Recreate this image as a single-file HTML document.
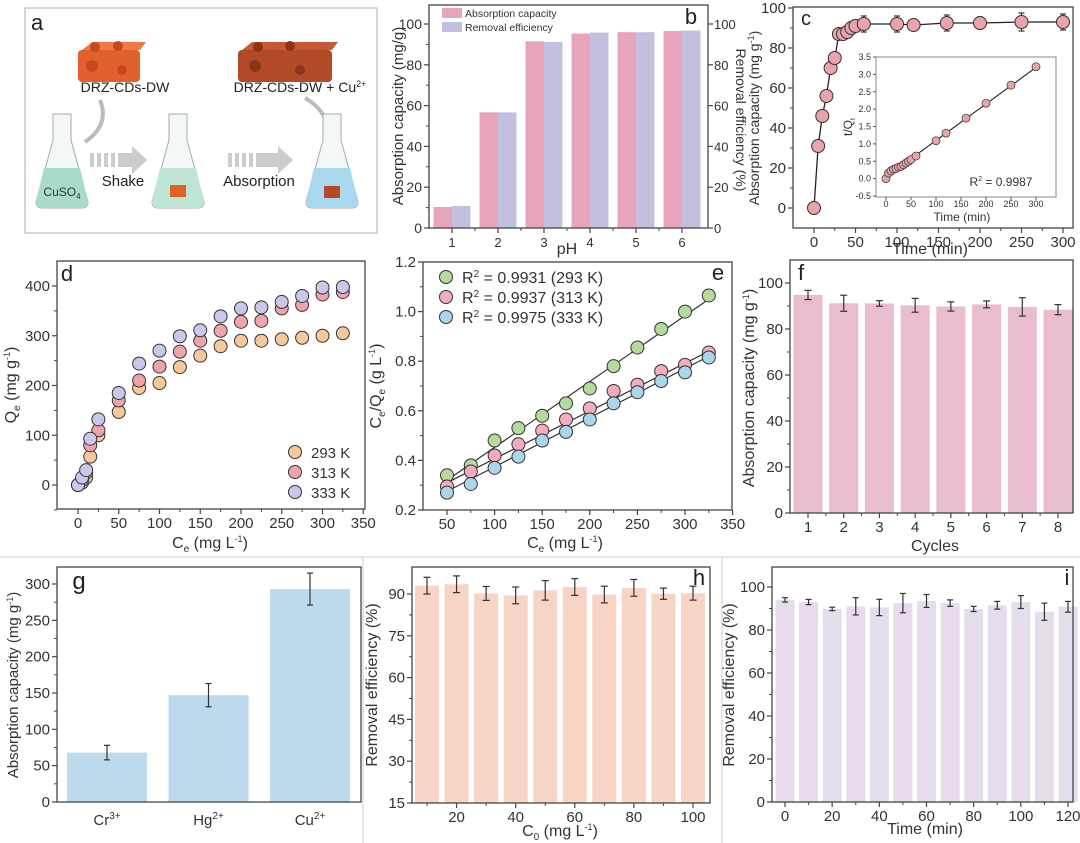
<!DOCTYPE html>
<html><head><meta charset="utf-8">
<style>
html,body{margin:0;padding:0;background:#fff;}
svg{display:block;font-family:"Liberation Sans",Arial,sans-serif;}
</style></head>
<body>
<svg id="fig" width="1080" height="843" viewBox="0 0 1080 843" xmlns="http://www.w3.org/2000/svg">
<g stroke="#ccc" stroke-width="1">
<line x1="0" y1="557" x2="1080" y2="557"/>
<line x1="363" y1="557" x2="363" y2="843"/>
<line x1="722" y1="557" x2="722" y2="843"/>
</g>
<g>
<rect x="25" y="8" width="352" height="225" fill="#fff" stroke="#bbb" stroke-width="1.2"/>
<text x="31" y="30" font-size="22" fill="#222">a</text>
<g>
<rect x="78" y="50" width="62" height="32" rx="4" fill="#e0602e"/>
<path d="M82 50 L92 42 L146 42 L140 50 Z" fill="#f07a45"/>
<circle cx="95" cy="47" r="5" fill="#c24a1e"/><circle cx="118" cy="46" r="5" fill="#c24a1e"/>
<circle cx="92" cy="66" r="6" fill="#c24a1e"/><circle cx="122" cy="70" r="5" fill="#c24a1e"/>
</g>
<g>
<rect x="238" y="50" width="94" height="32" rx="4" fill="#b24a2a"/>
<path d="M242 50 L252 42 L338 42 L332 50 Z" fill="#c55a35"/>
<circle cx="258" cy="47" r="5" fill="#8a3418"/><circle cx="290" cy="46" r="5" fill="#8a3418"/>
<circle cx="255" cy="66" r="6" fill="#8a3418"/><circle cx="300" cy="70" r="5" fill="#8a3418"/>
</g>
<text x="125" y="92" font-size="14" fill="#222" text-anchor="middle">DRZ-CDs-DW</text>
<text x="300" y="92" font-size="14" fill="#222" text-anchor="middle">DRZ-CDs-DW + Cu<tspan font-size="9" dy="-5">2+</tspan></text>
<path d="M100 100 Q110 125 85 142" fill="none" stroke="#bbb" stroke-width="4"/>
<path d="M325 118 Q318 105 305 98" fill="none" stroke="#bbb" stroke-width="4"/>
<g>
<path d="M53 114 L71 114 L71 140 L88 202 Q88 208 82 208 L42 208 Q36 208 36 202 L53 140 Z" fill="#f4f7f7" stroke="#aaa"/>
<path d="M44 168 L80 168 L88 202 Q88 208 82 208 L42 208 Q36 208 36 202 Z" fill="#a8dcc8"/>
<text x="62" y="196" font-size="12" fill="#333" text-anchor="middle">CuSO<tspan font-size="8" dy="3">4</tspan></text>
</g>
<g>
<path d="M169 114 L187 114 L187 140 L204 202 Q204 208 198 208 L158 208 Q152 208 152 202 L169 140 Z" fill="#f4f7f7" stroke="#aaa"/>
<path d="M160 168 L196 168 L204 202 Q204 208 198 208 L158 208 Q152 208 152 202 Z" fill="#bfe6d4"/>
<rect x="170" y="185" width="16" height="12" fill="#e0602e"/>
</g>
<g>
<path d="M323 114 L341 114 L341 140 L358 202 Q358 208 352 208 L312 208 Q306 208 306 202 L323 140 Z" fill="#f4f7f7" stroke="#aaa"/>
<path d="M314 168 L350 168 L358 202 Q358 208 352 208 L312 208 Q306 208 306 202 Z" fill="#a9d8ee"/>
<rect x="324" y="186" width="16" height="12" fill="#b24a2a"/>
</g>
<g fill="#ccc">
<rect x="90" y="153" width="4" height="14"/><rect x="97" y="153" width="4" height="14"/><rect x="104" y="153" width="4" height="14"/><rect x="111" y="153" width="4" height="14"/>
<path d="M118 153 L132 153 L132 146 L147 160 L132 174 L132 167 L118 167 Z"/>
</g>
<g fill="#ccc">
<rect x="228" y="153" width="4" height="14"/><rect x="235" y="153" width="4" height="14"/><rect x="242" y="153" width="4" height="14"/><rect x="249" y="153" width="4" height="14"/>
<path d="M256 153 L278 153 L278 146 L293 160 L278 174 L278 167 L256 167 Z"/>
</g>
<text x="123" y="186" font-size="15" fill="#222" text-anchor="middle">Shake</text>
<text x="259" y="186" font-size="15" fill="#222" text-anchor="middle">Absorption</text>
</g>
<g id="charts"></g>
</svg>
<script>
const bPH = [1,2,3,4,5,6];
const bCapacity = [10.3,56.7,91.5,95.3,96.0,96.6];
const bRemoval = [10.8,56.7,91.2,95.8,96.0,96.8];
const cTime = [0,5,10,15,20,25,30,35,40,45,50,60,100,120,160,200,250,300];
const cQt = [0,31,46,56,70,75,87,87,88,90,91,92,92,91.5,92.5,92.5,93,93];
const cErr = [0,1.5,1.5,2,2,2,2,2,3,3,3,4,4,2,4,3,4.5,4];
const cInsetTQ = [0,0.16,0.22,0.27,0.29,0.33,0.35,0.40,0.45,0.50,0.55,0.65,1.09,1.31,1.74,2.17,2.69,3.22];
const cFit = [[5,0.1],[300,3.2]];
const dCe = [0,5,10,15,25,50,75,100,125,150,175,200,225,250,275,300,325];
const dQ293 = [0,5,15,57,100,147,195,205,237,260,279,290,290,293,296,300,305];
const dQ313 = [0,10,25,80,110,170,210,238,268,290,310,328,330,355,362,383,388];
const dQ333 = [0,15,30,93,132,185,244,270,299,311,339,355,357,368,380,397,398];
const eCe = [50,75,100,125,150,175,200,225,250,275,300,325];
const e293 = [0.34,0.38,0.48,0.53,0.58,0.63,0.69,0.78,0.855,0.93,1.0,1.065];
const e313 = [0.295,0.355,0.42,0.465,0.52,0.565,0.61,0.68,0.705,0.76,0.785,0.835];
const e333 = [0.27,0.305,0.37,0.415,0.48,0.515,0.565,0.63,0.675,0.72,0.755,0.815];
const eFit293 = [0.32,1.05];
const eFit313 = [0.31,0.84];
const eFit333 = [0.275,0.82];
const fCycles = [1,2,3,4,5,6,7,8];
const fCap = [94.8,91.2,91.1,90.3,89.8,90.7,89.6,88.4];
const fErr = [2,3.5,1.2,3,2,1.5,4,2.2];
const gIons = ["Cr","Hg","Cu"];
const gCharge = ["3+","2+","2+"];
const gCap = [68,147,293];
const gErr = [10,16,22];
const hC0 = [10,20,30,40,50,60,70,80,90,100];
const hRem = [93,93.5,90.2,89.5,91.3,92.5,89.8,92.2,90.1,90.3];
const hErr = [3,3,2.5,3,3.5,3,3,3,2,2.5];
const iTime = [0,10,20,30,40,50,60,70,80,90,100,110,120];
const iRem = [94,93,89.8,91,90.5,92.5,93.5,92.5,89.8,91.5,93,88.5,90.8];
const iErr = [1,1.2,0.8,4,3.8,4.5,3,1.5,1.2,1.8,3,4,2.5];

const NS = "http://www.w3.org/2000/svg";
const root = document.getElementById('charts');
function mk(tag, attrs, parent, name, inter) {
  const el = document.createElementNS(NS, tag);
  for (const k in attrs) el.setAttribute(k, attrs[k]);
  
  
  (parent || root).appendChild(el);
  return el;
}
function lin(d0,d1,r0,r1){ return v => r0 + (v-d0)*(r1-r0)/(d1-d0); }
function txt(x,y,s,size,parent,name,anchor,extra){
  const t = mk('text', Object.assign({x:x,y:y,'font-size':size,fill:'#333','text-anchor':anchor||'middle'}, extra||{}), parent, name, false);
  t.innerHTML = s;
  return t;
}
function frame(g, x0,y0,x1,y1,name){
  mk('rect',{x:x0,y:y0,width:x1-x0,height:y1-y0,fill:'none',stroke:'#444','stroke-width':1.3}, g, name, false);
}
function xTicks(g, xs, vals, yb, minor, fs, name){
  vals.forEach(v=>{
    mk('line',{x1:xs(v),x2:xs(v),y1:yb,y2:yb+5,stroke:'#444','stroke-width':1.2}, g, name+'-tick', false);
    txt(xs(v), yb+19, String(v), fs||15, g, name+'-label');
  });
  (minor||[]).forEach(v=>{
    mk('line',{x1:xs(v),x2:xs(v),y1:yb,y2:yb+3,stroke:'#444','stroke-width':1}, g, name+'-minor-tick', false);
  });
}
function yTicks(g, ys, vals, xl, minor, fs, name, fmt){
  vals.forEach(v=>{
    mk('line',{x1:xl-5,x2:xl,y1:ys(v),y2:ys(v),stroke:'#444','stroke-width':1.2}, g, name+'-tick', false);
    txt(xl-7, ys(v)+5, fmt?fmt(v):String(v), fs||15, g, name+'-label', 'end');
  });
  (minor||[]).forEach(v=>{
    mk('line',{x1:xl-3,x2:xl,y1:ys(v),y2:ys(v),stroke:'#444','stroke-width':1}, g, name+'-minor-tick', false);
  });
}
function vtitle(x,y,s,size,g,name,rot){
  txt(0,0,s,size,g,name,'middle',{transform:'translate('+x+','+y+') rotate('+(rot||-90)+')'});
}
function errbar(g,x,y1,y2,w,name){
  mk('line',{x1:x,x2:x,y1:y1,y2:y2,stroke:'#333','stroke-width':1.2}, g, name, false);
  mk('line',{x1:x-w,x2:x+w,y1:y1,y2:y1,stroke:'#333','stroke-width':1.2}, g, name+'-cap', false);
  mk('line',{x1:x-w,x2:x+w,y1:y2,y2:y2,stroke:'#333','stroke-width':1.2}, g, name+'-cap', false);
}

(function(){
  const g = mk('g',{}, root, 'panel-b', false);
  const xs = lin(1,6,452,682), ys = lin(0,100,228,24);
  const bw = 18.5;
  bPH.forEach((p,i)=>{
    mk('rect',{x:xs(p)-bw,y:ys(bCapacity[i]),width:bw,height:228-ys(bCapacity[i]),fill:'#e8a4bd'}, g, 'bar-capacity-ph'+p, false);
    mk('rect',{x:xs(p),y:ys(bRemoval[i]),width:bw,height:228-ys(bRemoval[i]),fill:'#c3c0df'}, g, 'bar-removal-ph'+p, false);
  });
  frame(g,429,5,708,228,'panel-b-frame');
  xTicks(g,xs,bPH,228,[1.5,2.5,3.5,4.5,5.5],13,'b-x');
  yTicks(g,ys,[0,20,40,60,80,100],429,[10,30,50,70,90],14,'b-y');
  [0,20,40,60,80,100].forEach(v=>{
    mk('line',{x1:708,x2:713,y1:ys(v),y2:ys(v),stroke:'#444','stroke-width':1.2}, g, 'b-y2-tick', false);
    txt(714, ys(v)+5, String(v), 13, g, 'b-y2-label','start');
  });
  txt(567,254,'pH',16,g,'b-x-title');
  vtitle(403,116,'Absorption capacity (mg/g)',15,g,'b-y-title');
  vtitle(736,120,'Removal efficiency (%)',14,g,'b-y2-title',90);
  mk('rect',{x:442,y:8,width:20,height:10,fill:'#e8a4bd'}, g, 'legend-swatch-capacity', false);
  txt(465,17,'Absorption capacity',10.5,g,'legend-label-capacity','start');
  mk('rect',{x:442,y:22,width:20,height:10,fill:'#c3c0df'}, g, 'legend-swatch-removal', false);
  txt(465,31,'Removal efficiency',10.5,g,'legend-label-removal','start');
  txt(691,24,'b',22,g,'panel-b-label','middle',{fill:'#222'});
})();

(function(){
  const g = mk('g',{}, root, 'panel-c', false);
  const xs = lin(0,300,814,1063), ys = lin(0,100,208,8);
  frame(g,793,7,1073,228,'panel-c-frame');
  xTicks(g,xs,[0,50,100,150,200,250,300],228,[25,75,125,175,225,275],15,'c-x');
  yTicks(g,ys,[0,20,40,60,80,100],793,[10,30,50,70,90],15,'c-y');
  let d = cTime.map((t,i)=>(i?'L':'M')+xs(t)+' '+ys(cQt[i])).join(' ');
  mk('path',{d:d,fill:'none',stroke:'#222','stroke-width':1.3}, g, 'c-kinetic-line', false);
  cTime.forEach((t,i)=>{
    if(cErr[i]) errbar(g,xs(t),ys(cQt[i]+cErr[i]),ys(cQt[i]-cErr[i]),3,'c-errorbar');
    mk('circle',{cx:xs(t),cy:ys(cQt[i]),r:6.5,fill:'#eba3aa',stroke:'#333','stroke-width':1}, g, 'c-point', false);
  });
  txt(930,254,'Time (min)',16,g,'c-x-title');
  vtitle(759,118,'Absorption capacity (mg g<tspan font-size="9" dy="-5">-1</tspan><tspan dy="5">)</tspan>',14,g,'c-y-title');
  txt(806,25,'c',20,g,'panel-c-label','middle',{fill:'#222'});
  const ix = lin(0,300,886,1036), iy = lin(-0.5,3.5,196,57);
  mk('rect',{x:876,y:57,width:180,height:140,fill:'#fff',stroke:'#888','stroke-width':1}, g, 'c-inset-frame', false);
  [0,50,100,150,200,250,300].forEach(v=>{
    mk('line',{x1:ix(v),x2:ix(v),y1:197,y2:200,stroke:'#555'}, g, 'c-inset-x-tick', false);
    txt(ix(v),207,String(v),9,g,'c-inset-x-label');
  });
  [-0.5,0,0.5,1,1.5,2,2.5,3,3.5].forEach(v=>{
    mk('line',{x1:873,x2:876,y1:iy(v),y2:iy(v),stroke:'#555'}, g, 'c-inset-y-tick', false);
    txt(871,iy(v)+3,v.toFixed(1),9,g,'c-inset-y-label','end');
  });
  mk('line',{x1:ix(cFit[0][0]),y1:iy(cFit[0][1]),x2:ix(cFit[1][0]),y2:iy(cFit[1][1]),stroke:'#222','stroke-width':1.1}, g, 'c-inset-fit-line', false);
  cTime.forEach((t,i)=>{
    mk('circle',{cx:ix(t),cy:iy(cInsetTQ[i]),r:4,fill:'#eba3aa',stroke:'#444','stroke-width':0.8}, g, 'c-inset-point', false);
  });
  txt(962,221,'Time (min)',12,g,'c-inset-x-title');
  vtitle(852,127,'t/Q<tspan font-size="7" dy="3">t</tspan>',12,g,'c-inset-y-title');
  txt(1001,186,'R<tspan font-size="7" dy="-5">2</tspan><tspan dy="5"> = 0.9987</tspan>',12,g,'c-inset-r2');
})();

(function(){
  const g = mk('g',{}, root, 'panel-d', false);
  const xs = lin(0,300,78,322.5), ys = lin(0,400,485,286);
  frame(g,57,261,365,509,'panel-d-frame');
  xTicks(g,xs,[0,50,100,150,200,250,300,350],509,[25,75,125,175,225,275,325],15,'d-x');
  yTicks(g,ys,[0,100,200,300,400],57,[-50,50,150,250,350],15,'d-y');
  const series=[[dQ293,'#f5c99a','293'],[dQ313,'#f0a3ab','313'],[dQ333,'#c9c8ea','333']];
  series.forEach(s=>{
    dCe.forEach((c,i)=>{
      mk('circle',{cx:xs(c),cy:ys(s[0][i]),r:6.5,fill:s[1],stroke:'#333','stroke-width':1}, g, 'd-point-'+s[2]+'k', false);
    });
  });
  series.forEach((s,k)=>{
    mk('circle',{cx:295,cy:452+k*20,r:6.5,fill:s[1],stroke:'#333','stroke-width':1}, g, 'd-legend-marker-'+s[2]+'k', false);
    txt(311,458+k*20,s[2]+' K',15,g,'d-legend-label-'+s[2]+'k','start');
  });
  txt(210,548,'C<tspan font-size="10" dy="4">e</tspan><tspan dy="-4"> (mg L</tspan><tspan font-size="9" dy="-6">-1</tspan><tspan dy="6">)</tspan>',16,g,'d-x-title');
  vtitle(16,385,'Q<tspan font-size="10" dy="4">e</tspan><tspan dy="-4"> (mg g</tspan><tspan font-size="9" dy="-6">-1</tspan><tspan dy="6">)</tspan>',16,g,'d-y-title');
  txt(67,281,'d',22,g,'panel-d-label','middle',{fill:'#222'});
})();

(function(){
  const g = mk('g',{}, root, 'panel-e', false);
  const xs = lin(50,300,447,685), ys = lin(0.2,1.2,510,262);
  frame(g,423,262,732,510,'panel-e-frame');
  xTicks(g,xs,[50,100,150,200,250,300,350],510,[75,125,175,225,275,325],15,'e-x');
  yTicks(g,ys,[0.2,0.4,0.6,0.8,1.0,1.2],423,[0.3,0.5,0.7,0.9,1.1],15,'e-y',v=>v.toFixed(1));
  const series=[[e293,eFit293,'#b6da9e','293','0.9931'],[e313,eFit313,'#f3abc0','313','0.9937'],[e333,eFit333,'#aad5eb','333','0.9975']];
  series.forEach(s=>{
    mk('line',{x1:xs(50),y1:ys(s[1][0]),x2:xs(325),y2:ys(s[1][1]),stroke:'#333','stroke-width':1.2}, g, 'e-fit-line-'+s[3]+'k', false);
  });
  series.forEach(s=>{
    eCe.forEach((c,i)=>{
      mk('circle',{cx:xs(c),cy:ys(s[0][i]),r:6.5,fill:s[2],stroke:'#333','stroke-width':1}, g, 'e-point-'+s[3]+'k', false);
    });
  });
  series.forEach((s,k)=>{
    mk('circle',{cx:446,cy:277+k*20,r:6.5,fill:s[2],stroke:'#333','stroke-width':1}, g, 'e-legend-marker-'+s[3]+'k', false);
    txt(462,283+k*20,'R<tspan font-size="10" dy="-6">2</tspan><tspan dy="6"> = '+s[4]+' ('+s[3]+' K)</tspan>',16,g,'e-legend-label-'+s[3]+'k','start');
  });
  txt(565,548,'C<tspan font-size="10" dy="4">e</tspan><tspan dy="-4"> (mg L</tspan><tspan font-size="9" dy="-6">-1</tspan><tspan dy="6">)</tspan>',16,g,'e-x-title');
  vtitle(381,386,'C<tspan font-size="10" dy="4">e</tspan><tspan dy="-4">/Q</tspan><tspan font-size="10" dy="4">e</tspan><tspan dy="-4"> (g L</tspan><tspan font-size="9" dy="-6">-1</tspan><tspan dy="6">)</tspan>',16,g,'e-y-title');
  txt(718,280,'e',22,g,'panel-e-label','middle',{fill:'#222'});
})();

(function(){
  const g = mk('g',{}, root, 'panel-f', false);
  const xs = lin(1,8,808,1058), ys = lin(0,100,513,283);
  fCycles.forEach((c,i)=>{
    mk('rect',{x:xs(c)-14.5,y:ys(fCap[i]),width:29,height:513-ys(fCap[i]),fill:'#e9bdcf'}, g, 'f-bar-cycle'+c, false);
    errbar(g,xs(c),ys(fCap[i]+fErr[i]),ys(fCap[i]-fErr[i]),3.5,'f-errorbar');
  });
  frame(g,790,260,1073,513,'panel-f-frame');
  xTicks(g,xs,fCycles,513,[1.5,2.5,3.5,4.5,5.5,6.5,7.5],15,'f-x');
  yTicks(g,ys,[0,20,40,60,80,100],790,[10,30,50,70,90],15,'f-y');
  txt(935,551,'Cycles',16,g,'f-x-title');
  vtitle(754,388,'Absorption capacity (mg g<tspan font-size="9" dy="-5">-1</tspan><tspan dy="5">)</tspan>',16,g,'f-y-title');
  txt(801,280,'f',22,g,'panel-f-label','middle',{fill:'#222'});
})();

(function(){
  const g = mk('g',{}, root, 'panel-g', false);
  const ys = lin(0,300,802,584);
  const xs = lin(0,2,107,310);
  gIons.forEach((ion,i)=>{
    mk('rect',{x:xs(i)-40,y:ys(gCap[i]),width:80,height:802-ys(gCap[i]),fill:'#bcdaeb'}, g, 'g-bar-'+ion.toLowerCase(), false);
    errbar(g,xs(i),ys(gCap[i]+gErr[i]),ys(gCap[i]-gErr[i]),3,'g-errorbar');
    txt(xs(i),825,ion+'<tspan font-size="10" dy="-6">'+gCharge[i]+'</tspan>',15,g,'g-x-label-'+ion.toLowerCase());
  });
  frame(g,57,567,361,802,'panel-g-frame');
  yTicks(g,ys,[0,50,100,150,200,250,300],57,[25,75,125,175,225,275],15,'g-y');
  vtitle(18,685,'Absorption capacity (mg g<tspan font-size="9" dy="-5">-1</tspan><tspan dy="5">)</tspan>',15,g,'g-y-title');
  txt(79,589,'g',24,g,'panel-g-label','middle',{fill:'#222'});
})();

(function(){
  const g = mk('g',{}, root, 'panel-h', false);
  const xs = lin(10,100,427,693), ys = lin(15,90,803,594);
  hC0.forEach((c,i)=>{
    mk('rect',{x:xs(c)-12,y:ys(hRem[i]),width:24,height:803-ys(hRem[i]),fill:'#f8d4c5'}, g, 'h-bar-c'+c, false);
    errbar(g,xs(c),ys(hRem[i]+hErr[i]),ys(hRem[i]-hErr[i]),3.5,'h-errorbar');
  });
  frame(g,412,567,710,803,'panel-h-frame');
  xTicks(g,xs,[20,40,60,80,100],803,[10,30,50,70,90],15,'h-x');
  yTicks(g,ys,[15,30,45,60,75,90],412,[22.5,37.5,52.5,67.5,82.5],15,'h-y');
  txt(560,836,'C<tspan font-size="10" dy="4">0</tspan><tspan dy="-4"> (mg L</tspan><tspan font-size="9" dy="-6">-1</tspan><tspan dy="6">)</tspan>',16,g,'h-x-title');
  vtitle(377,685,'Removal efficiency (%)',16,g,'h-y-title');
  txt(699,585,'h',22,g,'panel-h-label','middle',{fill:'#222'});
})();

(function(){
  const g = mk('g',{}, root, 'panel-i', false);
  const xs = lin(0,120,785,1068), ys = lin(0,100,802,587);
  iTime.forEach((t,i)=>{
    mk('rect',{x:xs(t)-9.5,y:ys(iRem[i]),width:19,height:802-ys(iRem[i]),fill:'#e6dcec'}, g, 'i-bar-t'+t, false);
    errbar(g,xs(t),ys(iRem[i]+iErr[i]),ys(iRem[i]-iErr[i]),3,'i-errorbar');
  });
  frame(g,772,567,1073,802,'panel-i-frame');
  xTicks(g,xs,[0,20,40,60,80,100,120],802,[10,30,50,70,90,110],15,'i-x');
  yTicks(g,ys,[0,20,40,60,80,100],772,[10,30,50,70,90],15,'i-y');
  txt(925,834,'Time (min)',16,g,'i-x-title');
  vtitle(734,685,'Removal efficiency (%)',16,g,'i-y-title');
  txt(1067,585,'i',22,g,'panel-i-label','middle',{fill:'#222'});
})();
</script>
</body></html>
